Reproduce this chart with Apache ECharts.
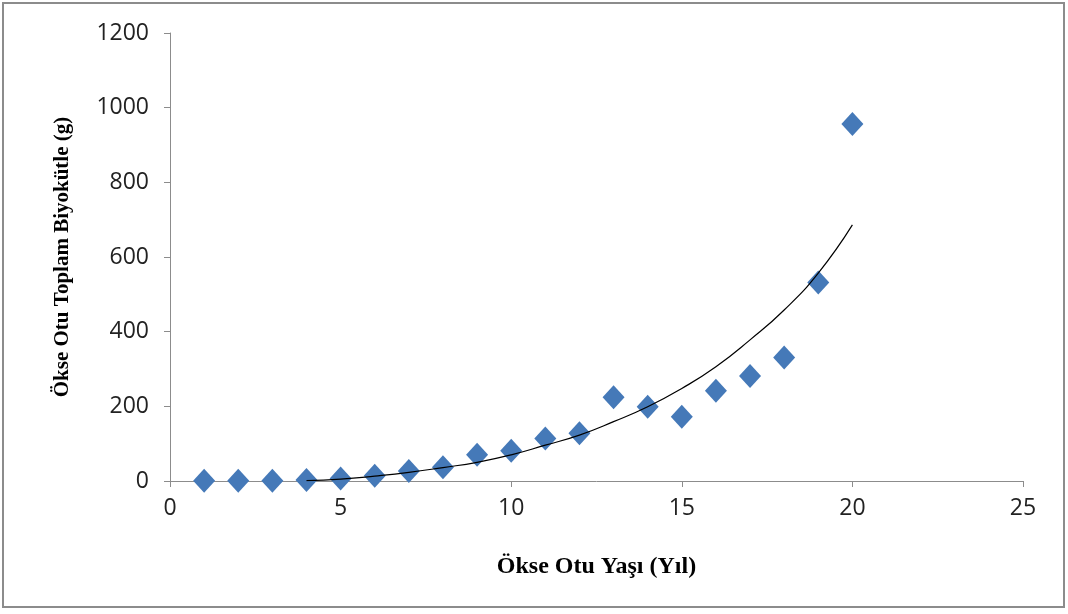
<!DOCTYPE html>
<html><head><meta charset="utf-8">
<script src="https://cdn.jsdelivr.net/npm/echarts@6/dist/echarts.min.js"></script>
<style>html,body{margin:0;padding:0;background:#fff}#c{width:1068px;height:614px}</style>
</head><body><div id="c"></div>
<script>
var ages = [1,2,3,4,5,6,7,8,9,10,11,12,13,14,15,16,17,18,19,20];
var biomass = [1,1,1,3,7,14,27,37,70,81,114,128,224,199,172,242,281,331,532,956];
var trendAges = [4,5,6,7,8,9,10,11,12,13,14,15,16,17,18,19,20];
var trendValues = [1,5,13,23,36,50,70,96,123,159,199,248,306,378,458,557,686];
var xTicks = [0,5,10,15,20,25];
var yTicks = [0,200,400,600,800,1000,1200];

var chart = echarts.init(document.getElementById('c'));
var axisLine = {show:true, lineStyle:{color:'#8c8c8c', width:1}};
chart.setOption({
  animation:false,
  graphic:[{type:'rect', shape:{x:3,y:3,width:1061,height:604}, style:{fill:'none', stroke:'#8c8c8c', lineWidth:2}}],
  grid:{left:170, right:45, top:33, bottom:133},
  xAxis:{type:'value', min:xTicks[0], max:xTicks[xTicks.length-1], interval:5,
    name:'Ökse Otu Yaşı (Yıl)', nameLocation:'middle', nameGap:74,
    nameTextStyle:{fontFamily:'Liberation Serif', fontWeight:'bold', fontSize:24, color:'#000'},
    axisLine:axisLine, axisTick:{show:true, length:6, lineStyle:{color:'#8c8c8c'}},
    splitLine:{show:false},
    axisLabel:{fontFamily:'Open Sans', fontSize:23, color:'#222', margin:16,
      formatter:function(v){return String(v);}}},
  yAxis:{type:'value', min:yTicks[0], max:yTicks[yTicks.length-1], interval:200,
    name:'Ökse Otu Toplam Biyokütle (g)', nameLocation:'middle', nameGap:97,
    nameTextStyle:{fontFamily:'Liberation Serif', fontWeight:'bold', fontSize:21, color:'#000'},
    axisLine:axisLine, axisTick:{show:true, length:6, lineStyle:{color:'#8c8c8c'}},
    splitLine:{show:false},
    axisLabel:{fontFamily:'Open Sans', fontSize:23, color:'#222', margin:21,
      formatter:function(v){return String(v);}}},
  series:[
    {type:'line', data:trendAges.map(function(a,i){return [a,trendValues[i]];}),
      smooth:true, showSymbol:false, lineStyle:{color:'#000', width:1.2}, z:3},
    {type:'scatter', data:ages.map(function(a,i){return [a,biomass[i]];}),
      symbol:'diamond', symbolSize:[22,24], itemStyle:{color:'#4579b8', opacity:1}, z:2}
  ]
});
</script></body></html>
